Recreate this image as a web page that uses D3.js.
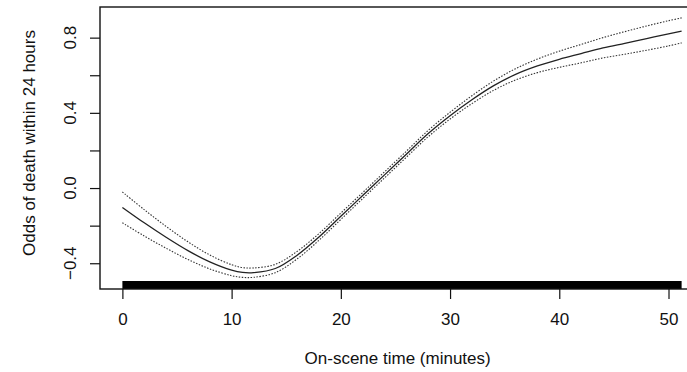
<!DOCTYPE html>
<html lang="en">
<head>
    <meta charset="UTF-8">
    <title>Odds of death vs on-scene time</title>
    <style>
        body {margin: 0; background: #fff;}
        svg {display: block; font-family: "Liberation Sans", Arial, sans-serif;}
    </style>
</head>
<body>
<svg id="chart"></svg>
<script src="https://cdn.jsdelivr.net/npm/d3@7"></script>
<script>
    // DATA: smooth fit with pointwise confidence band
    const minutes = [0, 2, 4, 6, 8, 10, 11, 12, 14, 16, 18, 20, 22, 24, 26, 28, 30, 32, 34, 36, 38, 40, 42, 44, 46, 48, 50, 51.2];
    const fit =   [-0.103, -0.185, -0.262, -0.333, -0.393, -0.437, -0.449, -0.450, -0.428, -0.357, -0.26, -0.15, -0.04, 0.07, 0.18, 0.29, 0.385, 0.47, 0.545, 0.605, 0.65, 0.685, 0.715, 0.745, 0.77, 0.795, 0.82, 0.835];
    const upper = [-0.021, -0.115, -0.204, -0.286, -0.356, -0.408, -0.423, -0.425, -0.406, -0.337, -0.242, -0.133, -0.024, 0.086, 0.196, 0.307, 0.403, 0.491, 0.570, 0.635, 0.686, 0.728, 0.764, 0.800, 0.832, 0.862, 0.890, 0.905];
    const lower = [-0.185, -0.255, -0.320, -0.380, -0.430, -0.466, -0.475, -0.475, -0.450, -0.377, -0.278, -0.167, -0.056, 0.054, 0.164, 0.273, 0.367, 0.449, 0.520, 0.575, 0.614, 0.642, 0.666, 0.692, 0.712, 0.733, 0.756, 0.772];
    const rugExtent = [0, 51.2];   // observations cover this range densely

    const xTicks = [0, 10, 20, 30, 40, 50];
    const yTicks = [-0.4, -0.2, 0, 0.2, 0.4, 0.6, 0.8];
    const yLabels = [-0.4, 0, 0.4, 0.8];

    // Dimensions
    const dim = {width: 687, height: 372};
    const box = {left: 100, top: 7, right: 704, bottom: 289};

    const svg = d3.select("#chart").attr("width", dim.width).attr("height", dim.height);

    const x = d3.scaleLinear().domain([-2.05, 53.25]).range([box.left, box.right]);
    const y = d3.scaleLinear().domain([-0.537, 0.963]).range([box.bottom, box.top]);

    // rug (dense, so it reads as a solid bar)
    svg.append("rect")
       .attr("x", x(rugExtent[0]))
       .attr("y", box.bottom - 8)
       .attr("width", x(rugExtent[1]) - x(rugExtent[0]))
       .attr("height", 8)
       .attr("fill", "#000");

    // curves
    const line = (vals) => d3.line().curve(d3.curveCatmullRom.alpha(0.5))
                             .x((d, i) => x(minutes[i]))
                             .y(d => y(d))(vals);

    svg.append("path").attr("d", line(upper))
       .attr("fill", "none").attr("stroke", "#333").attr("stroke-width", 1.1)
       .attr("stroke-dasharray", "1.5,1.5");
    svg.append("path").attr("d", line(lower))
       .attr("fill", "none").attr("stroke", "#333").attr("stroke-width", 1.1)
       .attr("stroke-dasharray", "1.5,1.5");
    svg.append("path").attr("d", line(fit))
       .attr("fill", "none").attr("stroke", "#222").attr("stroke-width", 1.3);

    // box
    svg.append("rect")
       .attr("x", box.left).attr("y", box.top)
       .attr("width", box.right - box.left).attr("height", box.bottom - box.top)
       .attr("fill", "none").attr("stroke", "#111").attr("stroke-width", 1.4);

    // x axis
    const gx = svg.append("g")
                  .attr("transform", `translate(0, ${box.bottom})`)
                  .call(d3.axisBottom(x).tickValues(xTicks).tickSize(10).tickPadding(14).tickFormat(d3.format("d")));
    gx.select(".domain").remove();
    gx.selectAll(".tick line").attr("stroke", "#111").attr("stroke-width", 1.2);
    gx.selectAll(".tick text").attr("font-size", 17).attr("fill", "#111")
      .attr("font-family", "Liberation Sans, Arial, sans-serif");

    // y axis
    const gy = svg.append("g")
                  .attr("transform", `translate(${box.left}, 0)`)
                  .call(d3.axisLeft(y).tickValues(yTicks).tickSize(10).tickFormat(""));
    gy.select(".domain").remove();
    gy.selectAll(".tick line").attr("stroke", "#111").attr("stroke-width", 1.2);

    svg.append("g").selectAll("text")
       .data(yLabels)
       .join("text")
         .attr("transform", d => `translate(76, ${y(d)}) rotate(-90)`)
         .attr("text-anchor", "middle")
         .attr("font-size", 17)
         .attr("fill", "#111")
         .text(d3.format(".1f"));

    // axis titles
    svg.append("text")
       .attr("x", x(25.2)).attr("y", 364)
       .attr("text-anchor", "middle")
       .attr("font-size", 17).attr("fill", "#111")
       .text("On-scene time (minutes)");

    svg.append("text")
       .attr("transform", `translate(35, ${(box.top + box.bottom) / 2 - 5}) rotate(-90)`)
       .attr("text-anchor", "middle")
       .attr("font-size", 17).attr("fill", "#111")
       .text("Odds of death within 24 hours");
</script>
</body>
</html>
